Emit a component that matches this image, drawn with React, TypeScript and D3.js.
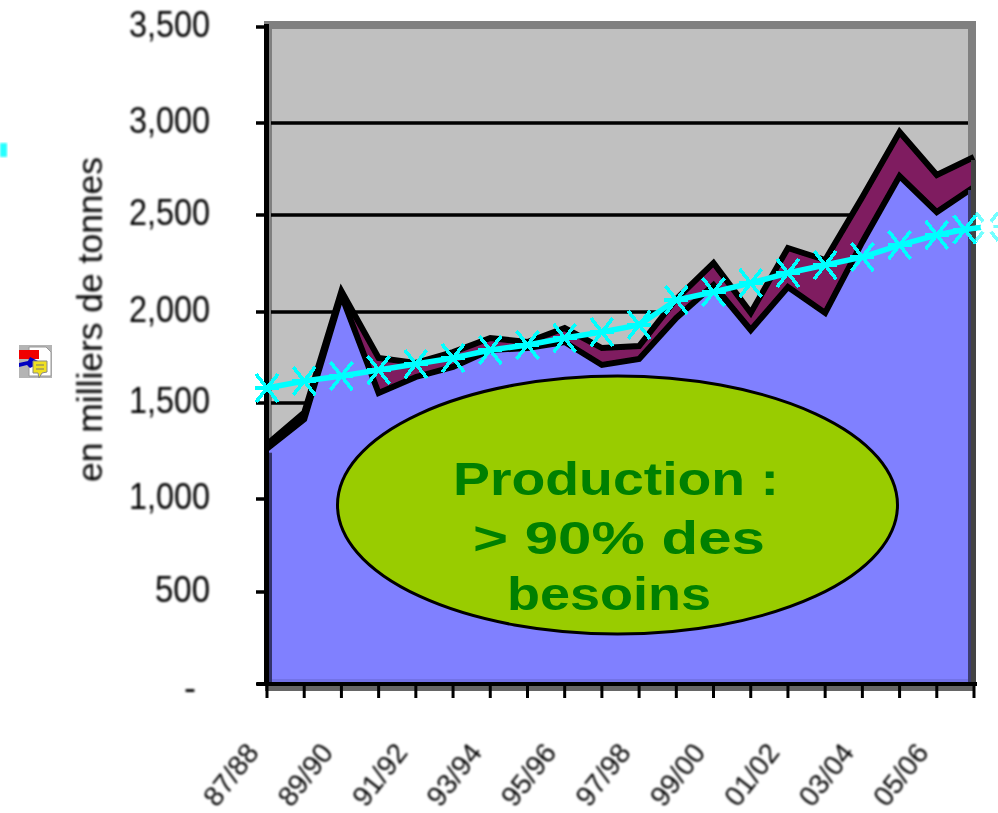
import React from "react";
import * as d3 from "d3";

const campaigns = ["87/88","88/89","89/90","90/91","91/92","92/93","93/94","94/95","95/96","96/97","97/98","98/99","99/00","00/01","01/02","02/03","03/04","04/05","05/06","06/07"];
const totalSupply = [1285,1450,2108,1747,1720,1780,1857,1835,1912,1802,1813,2067,2253,1995,2330,2268,2598,2951,2717,2815];
const production = [1262,1415,2085,1555,1643,1698,1791,1802,1835,1709,1742,1967,2139,1901,2129,1995,2361,2712,2516,2652];
const demandPos = [0,1,2,3,4,5,6,7,8,9,10,11,12,13,14,15,16,17,18,18.75,19.35];
const demand = [1582,1621,1648,1681,1714,1747,1791,1819,1857,1890,1929,2062,2103,2149,2201,2242,2283,2345,2397,2425,2440];
const yTicks = [0,500,1000,1500,2000,2500,3000,3500];
const yPixels = [684,592,499,403,312,215,123,27];
const calloutLines = ["Production :","> 90% des","besoins"];

const x = d3.scaleLinear().domain([0, 19]).range([267, 974]);
const y = d3.scaleLinear().domain(yTicks).range(yPixels);
const fmt = (v: number) => (v === 0 ? "-" : d3.format(",")(v));

const sans = "'Liberation Sans', Arial, sans-serif";

export default function App() {
  const idx = campaigns.map((_, i) => i);
  const topArea = d3.area<number>().x((i) => x(i)).y0(y(0)).y1((i) => y(totalSupply[i]))(idx)!;
  const lowArea = d3.area<number>().x((i) => x(i)).y0(y(0)).y1((i) => y(production[i]))(idx)!;
  const topLine = d3.line<number>().x((i) => x(i)).y((i) => y(totalSupply[i]))(idx)!;
  const lowLine = d3.line<number>().x((i) => x(i)).y((i) => y(production[i]))(idx)!;
  const demandLine = d3.line<number>().x((_, k) => x(demandPos[k])).y((d) => y(d))(demand)!;
  const plotL = x(0), plotR = x(19), plotT = y(3500), plotB = y(0);

  return (
    <svg width={998} height={813} style={{ position: "absolute", left: 0, top: 0, background: "#fff" }}>
      <defs>
        <filter id="soft" x="-5%" y="-5%" width="110%" height="110%"><feGaussianBlur stdDeviation="0.8" /></filter>
        <filter id="softer" x="-5%" y="-5%" width="110%" height="110%"><feGaussianBlur stdDeviation="0.45" /></filter>
        <clipPath id="plot"><rect x={plotL} y={plotT} width={plotR - plotL + 2} height={plotB - plotT} /></clipPath>
      </defs>

      {/* plot wall */}
      <rect x={plotL} y={plotT} width={plotR - plotL} height={plotB - plotT} fill="#c0c0c0" />
      <rect x={plotL - 3} y={21} width={plotR - plotL + 5} height={8} fill="#808080" />
      <rect x={plotL} y={plotT} width={5} height={plotB - plotT} fill="#808080" />
      <rect x={plotR - 6} y={21} width={8} height={plotB - 21} fill="#808080" />

      {/* gridlines */}
      {yTicks.slice(1, -1).map((t) => (
        <line key={t} x1={plotL + 4} x2={plotR - 6} y1={y(t)} y2={y(t)} stroke="#000" strokeWidth={3.5} />
      ))}

      {/* areas */}
      <g filter="url(#softer)" clipPath="url(#plot)">
        <path d={topArea} fill="#7f1f60" />
        <path d={lowArea} fill="#8080ff" />
        <rect x={plotL} y={plotB - 5} width={plotR - plotL} height={5} fill="#7272e6" />
        <path d={topLine} fill="none" stroke="#000" strokeWidth={6} strokeLinejoin="miter" />
        <path d={lowLine} fill="none" stroke="#000" strokeWidth={6} strokeLinejoin="miter" />
      </g>
      <rect x={plotL + 1} y={y(production[0]) + 4} width={4} height={plotB - y(production[0]) - 4} fill="#33336b" />
      <rect x={plotR - 6} y={y(production[19]) + 3} width={3} height={plotB - y(production[19]) - 3} fill="#3c3c70" />
      <rect x={plotR - 3} y={y(totalSupply[19]) + 3} width={5} height={plotB - y(totalSupply[19]) - 3} fill="#444" />

      {/* axes */}
      <rect x={264} y={24} width={5} height={plotB - 22} fill="#000" />
      <rect x={plotL - 2} y={686} width={plotR - plotL + 3} height={5} fill="#666" />
      <rect x={plotL - 10} y={682} width={plotR - plotL + 13} height={4} fill="#000" />
      {yTicks.map((t) => (
        <line key={t} x1={256} x2={266} y1={y(t)} y2={y(t)} stroke="#000" strokeWidth={3.5} />
      ))}
      {idx.map((i) => (
        <line key={i} x1={x(i)} x2={x(i)} y1={684} y2={698} stroke="#000" strokeWidth={3} />
      ))}

      {/* demand line */}
      <g filter="url(#softer)">
        <path d={demandLine} fill="none" stroke="#00ffff" strokeWidth={5.5} />
        {demand.map((d, k) => {
          const cx = x(demandPos[k]), cy = y(d);
          const last = k === demand.length - 1;
          return (
            <g key={k} stroke="#00ffff" strokeWidth={3.6} opacity={last ? 0.55 : 1} shapeRendering="crispEdges">
              <line x1={cx - 11} x2={cx + 11} y1={cy - 14} y2={cy + 14} />
              <line x1={cx - 11} x2={cx + 11} y1={cy + 14} y2={cy - 14} />
              <line x1={cx - 12} x2={cx + 12} y1={cy} y2={cy} />
            </g>
          );
        })}
        <circle cx={x(demandPos[20])} cy={y(demand[20])} r={6.5} fill="#fff" />
      </g>

      {/* callout */}
      <ellipse cx={617.5} cy={505} rx={280} ry={129} fill="#99cc00" stroke="#000" strokeWidth={3} />
      <g fill="#008000" fontFamily={sans} fontWeight={700} fontSize={47} textAnchor="middle" filter="url(#softer)">
        <text x={616} y={495} textLength={326} lengthAdjust="spacingAndGlyphs">{calloutLines[0]}</text>
        <text x={619} y={554} textLength={292} lengthAdjust="spacingAndGlyphs">{calloutLines[1]}</text>
        <text x={609} y={610} textLength={204} lengthAdjust="spacingAndGlyphs">{calloutLines[2]}</text>
      </g>

      {/* labels */}
      <g filter="url(#soft)" fill="#000" fontFamily={sans}>
        {yTicks.map((t) => (
          t === 0 ? (
            <text key={t} x={196} y={700} fontSize={36} textAnchor="end">-</text>
          ) : (
            <text key={t} x={210} y={y(t) + 10} fontSize={36} textAnchor="end" textLength={t === 500 ? 55 : 81} lengthAdjust="spacingAndGlyphs">{fmt(t)}</text>
          )
        ))}
        <text transform="translate(102,319.5) rotate(-90)" fontSize={35} textAnchor="middle" textLength={325} lengthAdjust="spacingAndGlyphs">en milliers de tonnes</text>
        {idx.filter((i) => i % 2 === 0).map((i) => (
          <text key={i} transform={`translate(${x(i) - 7},753) rotate(-52)`} fontSize={28} textAnchor="end">{campaigns[i]}</text>
        ))}
      </g>

      {/* stray marker fragment at the left edge */}
      <rect x={0} y={143} width={7} height={14} fill="#00ffff" filter="url(#soft)" opacity={0.85} />

      {/* embedded object icon */}
      <g filter="url(#softer)">
        <rect x={19} y={345} width={33} height={33} fill="#b4b4b4" />
        <path d="M29 347 H46 L51 352 V376 H29 Z" fill="#fff" stroke="#999" strokeWidth={1} />
        <rect x={19} y={350} width={20} height={9} fill="#f00000" />
        <path d="M19 367 L19 363 L28 361 L30 357 L38 361 L38 364 L30 368 L27 365 Z" fill="#0000c0" />
        <path d="M33 361 H47 V372 L42 373 L39 378 L38 373 H33 Z" fill="#f0e020" stroke="#888" strokeWidth={1} />
        <line x1={36} x2={44} y1={365} y2={365} stroke="#777" strokeWidth={1} />
        <line x1={36} x2={44} y1={369} y2={369} stroke="#777" strokeWidth={1} />
      </g>
    </svg>
  );
}
